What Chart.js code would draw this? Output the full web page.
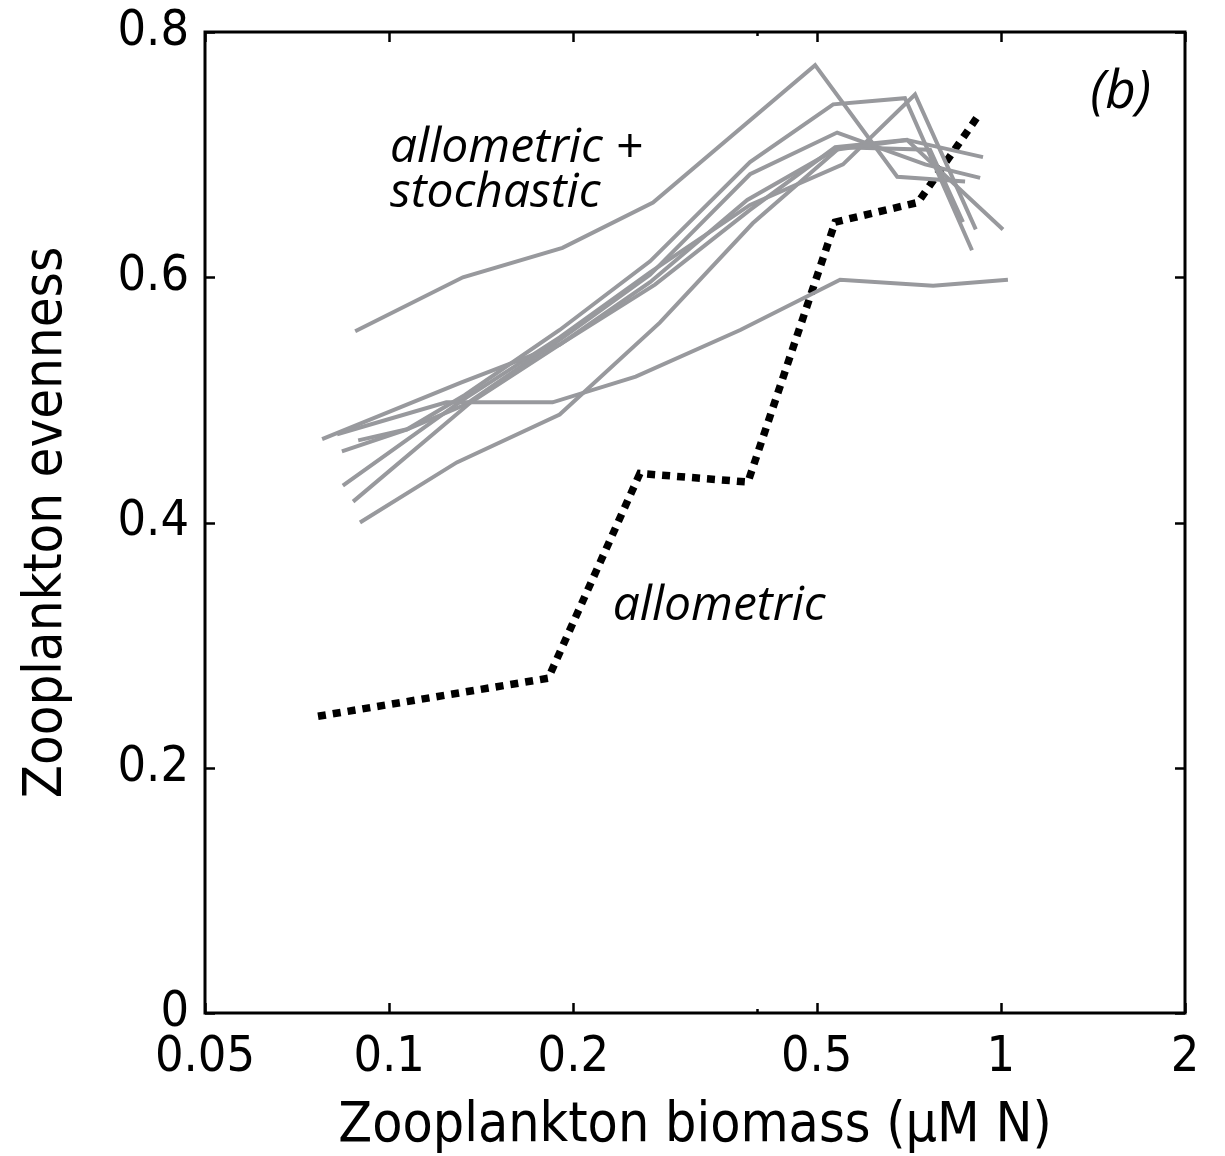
<!DOCTYPE html>
<html>
<head>
<meta charset="utf-8">
<script src="https://cdn.jsdelivr.net/npm/chart.js@4.4.1/dist/chart.umd.min.js"></script>
<style>
  body { margin: 0; background: #fff; }
  #wrap { width: 1225px; height: 1156px; }
</style>
</head>
<body>
<div id="wrap"><canvas id="myChart" width="1225" height="1156"></canvas></div>
<script>
// allometric + stochastic runs (gray)
var run1X = [0.0880, 0.132, 0.192, 0.270, 0.497, 0.677, 0.874];
var run1Y = [0.556, 0.600, 0.624, 0.661, 0.773, 0.682, 0.678];
var run2X = [0.0822, 0.124, 0.185, 0.253, 0.375, 0.546, 0.775, 1.027];
var run2Y = [0.472, 0.498, 0.498, 0.519, 0.557, 0.598, 0.593, 0.598];
var run3X = [0.0777, 0.131, 0.190, 0.267, 0.385, 0.536, 0.702, 0.935];
var run3Y = [0.468, 0.514, 0.545, 0.596, 0.663, 0.704, 0.712, 0.698];
var run4X = [0.0837, 0.107, 0.133, 0.190, 0.267, 0.389, 0.532, 0.697, 0.897];
var run4Y = [0.458, 0.476, 0.504, 0.557, 0.613, 0.694, 0.741, 0.746, 0.622];
var run5X = [0.0890, 0.107, 0.133, 0.190, 0.267, 0.389, 0.540, 0.752, 0.925];
var run5Y = [0.467, 0.476, 0.496, 0.549, 0.602, 0.684, 0.718, 0.692, 0.681];
var run6X = [0.0840, 0.132, 0.190, 0.267, 0.389, 0.552, 0.724, 0.910];
var run6Y = [0.430, 0.500, 0.551, 0.604, 0.659, 0.692, 0.749, 0.639];
var run7X = [0.0873, 0.136, 0.190, 0.272, 0.389, 0.536, 0.702, 1.008];
var run7Y = [0.417, 0.498, 0.545, 0.594, 0.655, 0.706, 0.712, 0.639];
var run8X = [0.0896, 0.129, 0.190, 0.277, 0.393, 0.546, 0.766, 0.867];
var run8Y = [0.400, 0.449, 0.488, 0.563, 0.644, 0.706, 0.704, 0.645];

// allometric only (black dotted)
var alloX = [0.0765, 0.182, 0.257, 0.386, 0.536, 0.732, 0.925];
var alloY = [0.242, 0.273, 0.440, 0.433, 0.645, 0.661, 0.734];

// ticks
var xTicks = [0.05, 0.1, 0.2, 0.5, 1, 2];
var xMinorTicks = [0.4];
var yTicks = [0, 0.2, 0.4, 0.6, 0.8];

var tickFont = "'Liberation Sans Narrow', 'DejaVu Sans Condensed', sans-serif";
var noteFont = "'Open Sans', sans-serif";

function pts(xs, ys) {
  var out = [];
  for (var i = 0; i < xs.length; i++) out.push({x: xs[i], y: ys[i]});
  return out;
}

function grayRun(xs, ys) {
  return {
    data: pts(xs, ys),
    showLine: true,
    borderColor: 'rgb(152,153,157)',
    borderWidth: 4,
    pointRadius: 0,
    fill: false,
    tension: 0
  };
}

var frame = {
  id: 'frame',
  afterDraw: function(chart) {
    var ctx = chart.ctx;
    var a = chart.chartArea;
    var xs = chart.scales.x, ys = chart.scales.y;
    ctx.save();
    ctx.strokeStyle = '#000';
    ctx.lineWidth = 2.5;
    // tick marks inward on all four sides
    xTicks.forEach(function(v) {
      var p = Math.round(xs.getPixelForValue(v)) + 0.5;
      ctx.beginPath();
      ctx.moveTo(p, a.bottom); ctx.lineTo(p, a.bottom - 10);
      ctx.moveTo(p, a.top); ctx.lineTo(p, a.top + 10);
      ctx.stroke();
    });
    xMinorTicks.forEach(function(v) {
      var p = Math.round(xs.getPixelForValue(v)) + 0.5;
      ctx.beginPath();
      ctx.moveTo(p, a.bottom); ctx.lineTo(p, a.bottom - 4);
      ctx.moveTo(p, a.top); ctx.lineTo(p, a.top + 4);
      ctx.stroke();
    });
    yTicks.forEach(function(v) {
      var p = Math.round(ys.getPixelForValue(v)) + 0.5;
      ctx.beginPath();
      ctx.moveTo(a.left, p); ctx.lineTo(a.left + 10, p);
      ctx.moveTo(a.right, p); ctx.lineTo(a.right - 10, p);
      ctx.stroke();
    });
    ctx.lineWidth = 3;
    ctx.strokeRect(a.left, a.top, a.right - a.left, a.bottom - a.top);

    // annotations
    ctx.fillStyle = '#000';
    ctx.textBaseline = 'alphabetic';
    ctx.textAlign = 'left';
    ctx.font = 'italic 48px ' + noteFont;
    ctx.fillText('allometric +', xs.getPixelForValue(0.1003), ys.getPixelForValue(0.694));
    ctx.fillText('stochastic', xs.getPixelForValue(0.1003), ys.getPixelForValue(0.657));
    ctx.fillText('allometric', xs.getPixelForValue(0.232), ys.getPixelForValue(0.3206));
    ctx.font = 'italic 53px ' + noteFont;
    ctx.fillText('(b)', xs.getPixelForValue(1.40), ys.getPixelForValue(0.738));
    ctx.restore();
  }
};

var ctx = document.getElementById('myChart').getContext('2d');
var myChart = new Chart(ctx, {
  type: 'scatter',
  data: {
    datasets: [
      grayRun(run1X, run1Y),
      grayRun(run2X, run2Y),
      grayRun(run3X, run3Y),
      grayRun(run4X, run4Y),
      grayRun(run5X, run5Y),
      grayRun(run6X, run6Y),
      grayRun(run7X, run7Y),
      grayRun(run8X, run8Y),
      {
        data: pts(alloX, alloY),
        showLine: true,
        borderColor: '#000',
        borderWidth: 7.5,
        borderDash: [8, 7],
        borderCapStyle: 'butt',
        pointRadius: 0,
        fill: false,
        tension: 0
      }
    ]
  },
  options: {
    responsive: false,
    animation: false,
    devicePixelRatio: 1,
    layout: { padding: { top: 32, right: 40, left: 0, bottom: 0 } },
    plugins: { legend: { display: false }, tooltip: { enabled: false } },
    scales: {
      x: {
        type: 'logarithmic',
        min: 0.05,
        max: 2,
        afterBuildTicks: function(scale) {
          scale.ticks = xTicks.map(function(v) { return {value: v}; });
        },
        afterFit: function(scale) {
          scale.height = 143;
          scale.paddingLeft = 0;
          scale.paddingRight = 0;
        },
        grid: { display: false, drawTicks: false },
        border: { display: false },
        ticks: {
          color: '#000',
          padding: 15,
          maxRotation: 0,
          autoSkip: false,
          font: { family: tickFont, size: 50 },
          callback: function(v) { return String(v); }
        },
        title: {
          display: true,
          text: 'Zooplankton biomass (\u03bcM N)',
          color: '#000',
          font: { family: tickFont, size: 55, lineHeight: 1 },
          padding: { top: 0, bottom: 2 }
        }
      },
      y: {
        min: 0,
        max: 0.8,
        afterBuildTicks: function(scale) {
          scale.ticks = yTicks.map(function(v) { return {value: v}; });
        },
        afterFit: function(scale) {
          scale.width = 205;
          scale.paddingTop = 0;
          scale.paddingBottom = 0;
        },
        grid: { display: false, drawTicks: false },
        border: { display: false },
        ticks: {
          color: '#000',
          padding: 16,
          font: { family: tickFont, size: 50 },
          callback: function(v) { return String(v); }
        },
        title: {
          display: true,
          text: 'Zooplankton evenness',
          color: '#000',
          font: { family: tickFont, size: 54, lineHeight: 1 },
          padding: { top: 20, bottom: 0 }
        }
      }
    }
  },
  plugins: [frame]
});
</script>
</body>
</html>
